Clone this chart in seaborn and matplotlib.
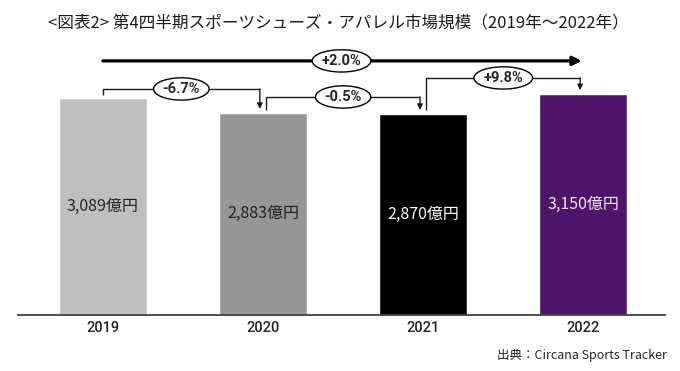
import matplotlib
matplotlib.use("Agg")
import matplotlib.pyplot as plt
import seaborn as sns
import pandas as pd

# ---- data ----
years = ["2019", "2020", "2021", "2022"]
values = [3089, 2883, 2870, 3150]
bar_colors = ["#BFBFBF", "#969696", "#000000", "#4E1468"]
label_colors = ["#222222", "#222222", "#FFFFFF", "#F3EAF8"]
step_changes = ["-6.7%", "-0.5%", "+9.8%"]
total_change = "+2.0%"
title = "<図表2> 第4四半期スポーツシューズ・アパレル市場規模（2019年～2022年）"
source = "出典：Circana Sports Tracker"

sns.set_theme(style="white")
plt.rcParams["font.family"] = ["Noto Sans CJK JP", "DejaVu Sans"]

df = pd.DataFrame({"year": years, "value": values})

fig = plt.figure(figsize=(6.8, 3.71), dpi=100)
ax = fig.add_axes([18 / 680, 56 / 371, 647 / 680, 285 / 371])

sns.barplot(data=df, x="year", y="value", hue="year", palette=bar_colors,
            width=0.55, saturation=1, legend=False, ax=ax)

ax.set_xlim(-0.53, 3.51)
ax.set_ylim(0, 4060)
ax.set_xlabel("")
ax.set_ylabel("")
ax.set_yticks([])
for s in ["top", "left", "right"]:
    ax.spines[s].set_visible(False)
ax.spines["bottom"].set_color("#404040")
ax.spines["bottom"].set_linewidth(1.3)
ax.tick_params(axis="x", length=0, pad=4)
for t in ax.get_xticklabels():
    t.set_fontsize(10.5)
    t.set_color("#222222")
    t.set_family(["Roboto", "DejaVu Sans"])
    t.set_fontweight("medium")

# value labels inside bars
for i, v in enumerate(values):
    ax.text(i, v / 2, f"{v:,}億円", ha="center", va="center",
            fontsize=11.5, color=label_colors[i])

# bracket arrows between consecutive years
ell = dict(boxstyle="ellipse,pad=0.06", fc="white", ec="black", lw=1.0)
lab_font = dict(fontsize=10.5, fontweight="bold", family=["Roboto", "DejaVu Sans"])
line_kw = dict(color="#1a1a1a", lw=1.0, solid_capstyle="butt")
levels = [3220, 3106, 3377]
start_gap = [46, 38, 51]
tip_gap = 52
for i, lab in enumerate(step_changes):
    x0 = i + (0.0 if i == 0 else 0.02)
    x1 = i + 1 - 0.02
    y0 = values[i] + start_gap[i]
    yh = levels[i]
    y1 = values[i + 1] + tip_gap
    ax.plot([x0, x0, x1], [y0, yh, yh], **line_kw)
    ax.annotate("", xy=(x1, y1), xytext=(x1, yh),
                arrowprops=dict(arrowstyle="-|>", mutation_scale=8, lw=1.0,
                                color="#1a1a1a", shrinkA=0, shrinkB=0))
    ax.text((x0 + x1) / 2, yh, lab, ha="center", va="center", bbox=ell, **lab_font)

# overall arrow
yt = 3620
ax.annotate("", xy=(2.99, yt), xytext=(0, yt),
            arrowprops=dict(arrowstyle="-|>", mutation_scale=13, lw=2.3,
                            color="black", shrinkA=0, shrinkB=0))
ax.text(1.49, yt, total_change, ha="center", va="center", bbox=ell, **lab_font)

fig.text(338 / 680, 1 - 24 / 371, title, ha="center", va="center",
         fontsize=12, color="#1a1a1a")
fig.text(667 / 680, 1 - 356 / 371, source, ha="right", va="center",
         fontsize=9, color="#222222")

fig.savefig("out.png", dpi=100)
